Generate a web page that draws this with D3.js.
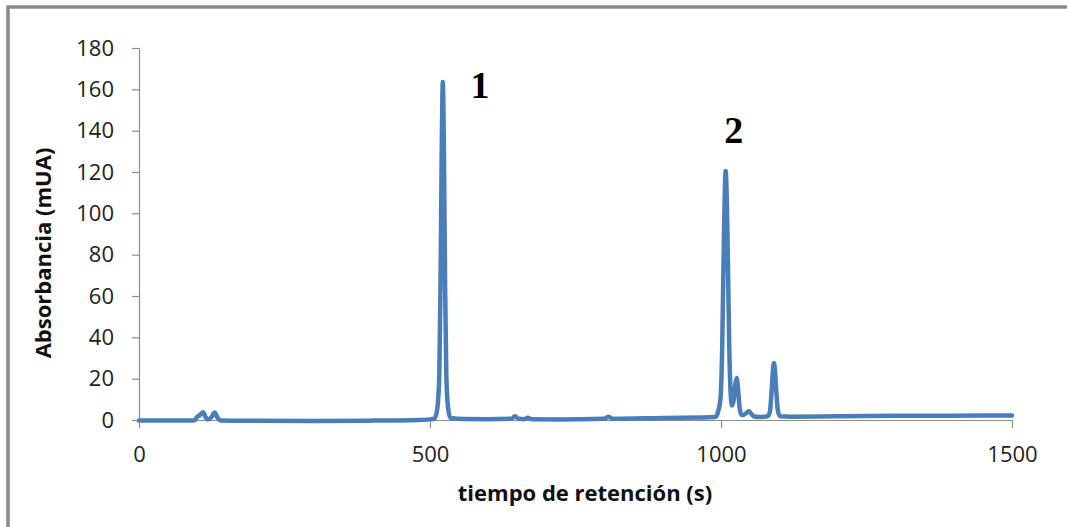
<!DOCTYPE html>
<html>
<head>
<meta charset="utf-8">
<script src="https://cdn.jsdelivr.net/npm/d3@7/dist/d3.min.js"></script>
<style>
  html, body { margin: 0; padding: 0; background: #fff; }
  svg { display: block; }
  .tick text { font-family: "Open Sans", sans-serif; fill: #222; }
</style>
</head>
<body>
<script>
// Retention time (s) of each sampled point of the chromatogram
const times = [
  0, 50, 95, 100, 104, 110, 114, 118, 124, 130, 135, 140,
  200, 300, 400, 480, 500, 507, 511, 514, 516, 518, 520, 522, 524, 526, 528, 531, 535,
  560, 600, 640, 646, 652, 662, 668, 674, 720, 800, 806, 814, 900, 980,
  991, 995, 999, 1002, 1005, 1008, 1011, 1014, 1017, 1019, 1022, 1025, 1027, 1029,
  1032, 1035, 1038, 1044, 1048, 1052, 1056, 1066, 1080, 1084, 1087, 1089, 1091,
  1093, 1095, 1098, 1102, 1120, 1200, 1300, 1400, 1500
];
// Absorbance (mUA) at each of those times
const absorbance = [
  -0.2, -0.3, -0.2, 1.5, 2.2, 3.8, 1.6, 0.2, 1.2, 3.6, 1.0, -0.2,
  -0.4, -0.5, -0.3, 0.0, 0.3, 0.6, 3, 10, 22, 64, 126, 163.5, 128, 64, 22, 6, 1.0,
  0.5, 0.4, 0.6, 1.8, 0.6, 0.4, 1.1, 0.4, 0.3, 0.6, 1.6, 0.6, 1.0, 1.3,
  1.6, 4, 10, 34, 88, 120.5, 92, 38, 11, 7, 10, 18, 20.3, 16,
  6, 2.6, 2.4, 3.5, 4.3, 3.0, 1.8, 1.4, 1.8, 4, 14, 23, 27.6,
  23, 14, 4, 1.8, 1.6, 1.8, 2.0, 2.1, 2.2
];
const xTicks = [0, 500, 1000, 1500];
const yTicks = [0, 20, 40, 60, 80, 100, 120, 140, 160, 180];
// Peak numbers: retention time and absorbance where each label sits
const peakLabels = ["1", "2"];
const peakLabelTimes = [586, 1022];
const peakLabelValues = [156, 134];

const W = 1067, H = 527;
const svg = d3.select("body").append("svg").attr("width", W).attr("height", H);

// outer frame edge
svg.append("path")
  .attr("d", "M8,527 V7 H1067")
  .attr("fill", "none").attr("stroke", "#8a8a8a").attr("stroke-width", 3.5);

const x = d3.scaleLinear().domain([0, 1500]).range([139, 1012]);
const y = d3.scaleLinear().domain([0, 180]).range([420, 48]);

const axisColor = "#8c8c8c";

const gy = svg.append("g").attr("transform", "translate(139,0)")
  .call(d3.axisLeft(y).tickValues(yTicks).tickSize(7).tickPadding(18).tickSizeOuter(0)
    .tickFormat(d3.format("d")));
const gx = svg.append("g").attr("transform", "translate(0,420)")
  .call(d3.axisBottom(x).tickValues(xTicks).tickSize(8).tickPadding(18).tickSizeOuter(0)
    .tickFormat(d3.format("d")));

[gy, gx].forEach(g => {
  g.selectAll("path.domain").attr("stroke", axisColor).attr("stroke-width", 1.2);
  g.selectAll(".tick line").attr("stroke", axisColor).attr("stroke-width", 1.2);
  g.selectAll(".tick text").attr("font-size", 22).attr("fill", "#222");
});

// chromatogram trace
const pts = times.map((t, i) => [t, absorbance[i]]);
svg.append("path")
  .datum(pts)
  .attr("fill", "none")
  .attr("stroke", "#4a7ebb")
  .attr("stroke-width", 4.5)
  .attr("stroke-linejoin", "round")
  .attr("stroke-linecap", "round")
  .attr("d", d3.line().x(d => x(d[0])).y(d => y(d[1])).curve(d3.curveMonotoneX));

// peak numbers
svg.selectAll("text.peak")
  .data(peakLabels)
  .join("text")
  .attr("class", "peak")
  .attr("x", (d, i) => x(peakLabelTimes[i]))
  .attr("y", (d, i) => y(peakLabelValues[i]))
  .attr("text-anchor", "middle")
  .attr("font-family", "Liberation Serif, Times New Roman, serif")
  .attr("font-weight", "bold")
  .attr("font-size", 38)
  .attr("fill", "#000")
  .text(d => d);

// axis titles
svg.append("text")
  .attr("transform", "translate(51,253) rotate(-90)")
  .attr("text-anchor", "middle")
  .attr("font-family", "Open Sans, sans-serif")
  .attr("font-weight", "bold")
  .attr("font-size", 22)
  .attr("fill", "#111")
  .text("Absorbancia (mUA)");

svg.append("text")
  .attr("x", 585)
  .attr("y", 501)
  .attr("text-anchor", "middle")
  .attr("font-family", "Open Sans, sans-serif")
  .attr("font-weight", "bold")
  .attr("font-size", 22)
  .attr("fill", "#111")
  .text("tiempo de retención (s)");
</script>
</body>
</html>
